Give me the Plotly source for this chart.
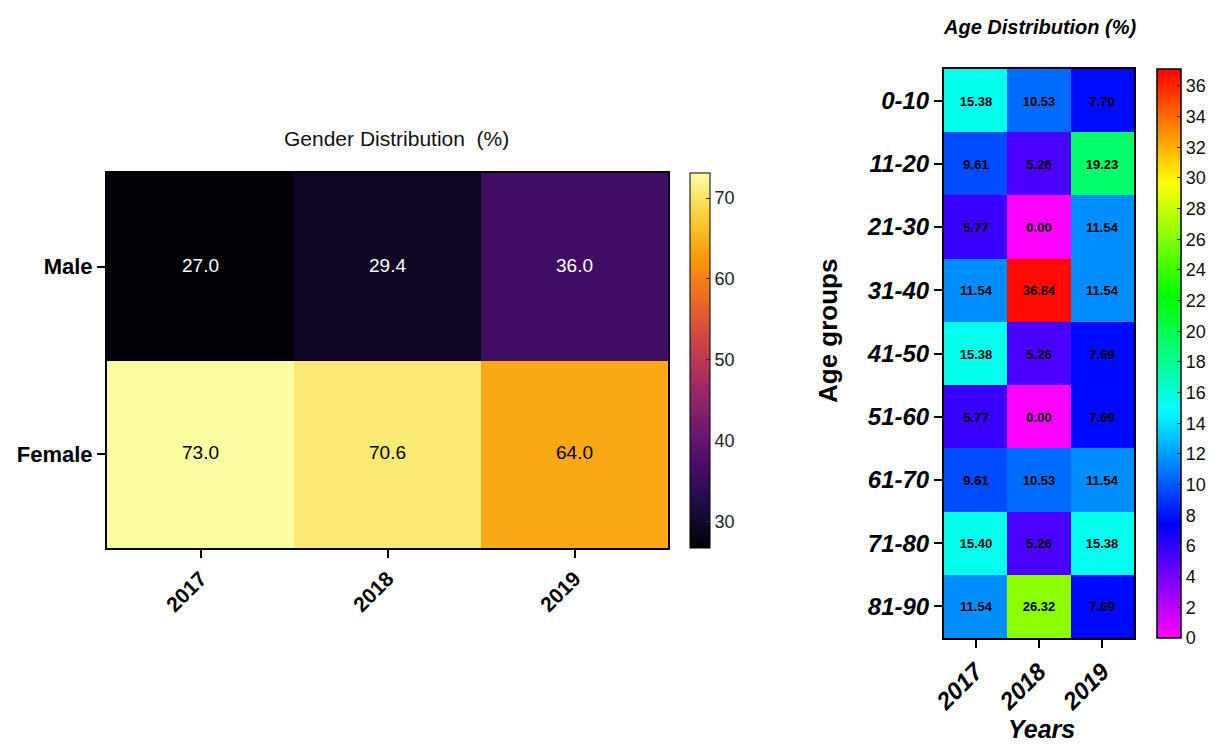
import plotly.graph_objects as go

# Gender distribution (%) by year
gender_years = ["2017", "2018", "2019"]
gender_groups = ["Male", "Female"]
male_pct = [27.0, 29.4, 36.0]
female_pct = [73.0, 70.6, 64.0]

# Age distribution (%) by year
age_years = ["2017", "2018", "2019"]
age_groups = ["0-10", "11-20", "21-30", "31-40", "41-50",
              "51-60", "61-70", "71-80", "81-90"]
age_2017 = [15.38, 9.61, 5.77, 11.54, 15.38, 5.77, 9.61, 15.40, 11.54]
age_2018 = [10.53, 5.26, 0.00, 36.84, 5.26, 0.00, 10.53, 5.26, 26.32]
age_2019 = [7.70, 19.23, 11.54, 11.54, 7.69, 7.69, 11.54, 15.38, 7.69]

W, H = 1218, 745
FONT = "Liberation Sans, Arial, sans-serif"


def px_x(a, b):
    return [a / W, b / W]


def px_y(top, bottom):
    return [1 - bottom / H, 1 - top / H]


gender_z = [male_pct, female_pct]
age_z = [[age_2017[i], age_2018[i], age_2019[i]] for i in range(len(age_groups))]

rainbow = [
    [0.0, "#ff00ff"],
    [0.2, "#0000ff"],
    [0.4, "#00ffff"],
    [0.6, "#00ff00"],
    [0.8, "#ffff00"],
    [1.0, "#ff0000"],
]

G_MIN, G_MAX = 26.7, 73.1
A_MIN, A_MAX = 0.0, 37.1

fig = go.Figure()

gy = px_y(173, 548)
fig.add_trace(go.Heatmap(
    x=gender_years, y=gender_groups, z=gender_z,
    colorscale="Inferno", zmin=G_MIN, zmax=G_MAX,
    xaxis="x", yaxis="y",
    colorbar=dict(
        x=690 / W, xanchor="left", xpad=0,
        y=gy[0], yanchor="bottom", ypad=0,
        len=gy[1] - gy[0], lenmode="fraction",
        thickness=20, outlinecolor="black", outlinewidth=1,
        tickvals=[30, 40, 50, 60, 70], ticks="inside", ticklen=4,
        tickcolor="#333",
        tickfont=dict(family=FONT, size=18, color="#222"),
    ),
))

# cell labels: white on the dark male row, black on the light female row
cell_x, cell_y, cell_txt, cell_col = [], [], [], []
for name, row, col in [("Male", male_pct, "white"), ("Female", female_pct, "black")]:
    for yr, v in zip(gender_years, row):
        cell_x.append(yr)
        cell_y.append(name)
        cell_txt.append(f"{v:.1f}")
        cell_col.append(col)

fig.add_trace(go.Scatter(
    x=cell_x, y=cell_y, text=cell_txt, mode="text",
    textposition="middle center",
    textfont=dict(family=FONT, size=19, color=cell_col),
    xaxis="x", yaxis="y", showlegend=False, hoverinfo="skip",
))

ay = px_y(69, 638)
fig.add_trace(go.Heatmap(
    x=age_years, y=age_groups, z=age_z,
    colorscale=rainbow, zmin=A_MIN, zmax=A_MAX,
    texttemplate="%{z:.2f}",
    textfont=dict(family=FONT, size=13, color="black", weight="bold"),
    xaxis="x2", yaxis="y2",
    colorbar=dict(
        x=1157 / W, xanchor="left", xpad=0,
        y=ay[0], yanchor="bottom", ypad=0,
        len=ay[1] - ay[0], lenmode="fraction",
        thickness=24, outlinecolor="black", outlinewidth=1.5,
        tickvals=list(range(0, 37, 2)), ticks="inside", ticklen=4,
        tickcolor="#333",
        tickfont=dict(family=FONT, size=18, color="#111"),
    ),
))

axis_common = dict(
    showline=True, mirror=True, linecolor="black", linewidth=2,
    ticks="outside", ticklen=8, tickwidth=2, tickcolor="black",
    showgrid=False, zeroline=False, fixedrange=True, automargin=False,
)

fig.update_layout(
    width=W, height=H,
    margin=dict(l=0, r=0, t=0, b=0),
    paper_bgcolor="white", plot_bgcolor="white",
    font=dict(family=FONT, color="black"),
    xaxis=dict(domain=px_x(107, 668), anchor="y", tickangle=-45,
               categoryorder="array", categoryarray=gender_years,
               tickfont=dict(family=FONT, size=21, weight="bold"),
               **axis_common),
    yaxis=dict(domain=gy, anchor="x", autorange="reversed",
               categoryorder="array", categoryarray=gender_groups,
               tickfont=dict(family=FONT, size=22, weight="bold"),
               **axis_common),
    xaxis2=dict(domain=px_x(944, 1134), anchor="y2", tickangle=-45,
                tickfont=dict(family=FONT, size=24, weight="bold", style="italic"),
                **axis_common),
    yaxis2=dict(domain=ay, anchor="x2", autorange="reversed",
                tickfont=dict(family=FONT, size=24, weight="bold", style="italic"),
                **axis_common),
    annotations=[
        dict(text="Gender Distribution  (%)", x=396 / W, y=1 - 139 / H,
             xref="paper", yref="paper", showarrow=False,
             xanchor="center", yanchor="middle",
             font=dict(family=FONT, size=21, color="#111")),
        dict(text="Age Distribution (%)", x=1040 / W, y=1 - 27 / H,
             xref="paper", yref="paper", showarrow=False,
             xanchor="center", yanchor="middle",
             font=dict(family=FONT, size=20, weight="bold", style="italic")),
        dict(text="Years", x=1041 / W, y=1 - 729 / H,
             xref="paper", yref="paper", showarrow=False,
             xanchor="center", yanchor="middle",
             font=dict(family=FONT, size=25, weight="bold", style="italic")),
        dict(text="Age groups", x=828 / W, y=1 - 331 / H,
             xref="paper", yref="paper", showarrow=False, textangle=-90,
             xanchor="center", yanchor="middle",
             font=dict(family=FONT, size=26, weight="bold")),
    ],
)

fig.write_html("out.html")
